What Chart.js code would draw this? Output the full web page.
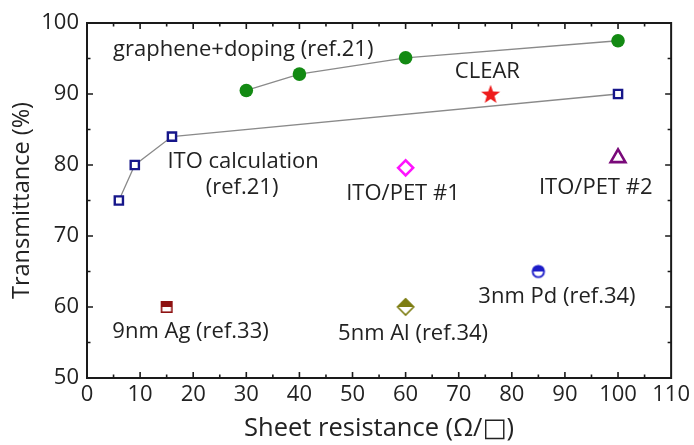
<!DOCTYPE html>
<html>
<head>
<meta charset="utf-8">
<script src="https://cdn.jsdelivr.net/npm/chart.js@4"></script>
<style>
  html, body { margin: 0; padding: 0; background: #fff; }
</style>
</head>
<body>
<canvas id="chart" width="694" height="445"></canvas>
<script>
// data
const grapheneX = [30, 40, 60, 100];
const grapheneY = [90.5, 92.8, 95.1, 97.5];
const itoCalcX = [6, 9, 16, 100];
const itoCalcY = [75, 80, 84, 90];
const clearPoint = [76, 90];
const itoPet1Point = [60, 79.6];
const itoPet2Point = [100, 81];
const agPoint = [15, 60];
const alPoint = [60, 60];
const pdPoint = [85, 65];

const xTicks = [0, 10, 20, 30, 40, 50, 60, 70, 80, 90, 100, 110];
const yTicks = [50, 60, 70, 80, 90, 100];

// text labels
const labelTexts = ['graphene+doping (ref.21)', 'CLEAR', 'ITO calculation', '(ref.21)',
  'ITO/PET #1', 'ITO/PET #2', '9nm Ag (ref.33)', '5nm Al (ref.34)', '3nm Pd (ref.34)'];
const labelX = [4.9, 75.4, 29.4, 29.2, 59.5, 95.8, 19.5, 61.4, 88.5];
const labelY = [96.3, 93.2, 80.4, 76.8, 75.9, 76.8, 56.5, 56.3, 61.5];
const labelAlign = ['left', 'center', 'center', 'center', 'center', 'center', 'center', 'center', 'center'];

const FONT = '"Open Sans", "DejaVu Sans", sans-serif';
const TEXT = '#222222';

function toPoints(xs, ys) {
  return xs.map((x, i) => ({ x: x, y: ys[i] }));
}

// small canvases used as point styles
function makeIcon(w, h, draw) {
  const c = document.createElement('canvas');
  c.width = w; c.height = h;
  draw(c.getContext('2d'), w, h);
  return c;
}

const starIcon = makeIcon(22, 22, (g, w, h) => {
  const cx = w / 2, cy = h / 2 + 0.8, ro = 10, ri = 4.1;
  g.beginPath();
  for (let i = 0; i < 10; i++) {
    const r = i % 2 ? ri : ro;
    const a = -Math.PI / 2 + i * Math.PI / 5;
    g.lineTo(cx + r * Math.cos(a), cy + r * Math.sin(a));
  }
  g.closePath();
  g.fillStyle = '#ee1c1c';
  g.fill();
});

const agIcon = makeIcon(16, 16, (g) => {
  g.fillStyle = '#8e1212';
  g.fillRect(2, 2, 12, 6);
  g.strokeStyle = '#8e1212';
  g.lineWidth = 1.6;
  g.strokeRect(2.8, 2.8, 10.4, 10.4);
});

const alIcon = makeIcon(22, 22, (g, w, h) => {
  const cx = w / 2, cy = h / 2, r = 9;
  g.fillStyle = '#7d7d12';
  g.beginPath();
  g.moveTo(cx - r, cy); g.lineTo(cx, cy - r); g.lineTo(cx + r, cy); g.closePath();
  g.fill();
  g.strokeStyle = '#7d7d12';
  g.lineWidth = 1.6;
  g.beginPath();
  g.moveTo(cx - r + 1, cy); g.lineTo(cx, cy - r + 1); g.lineTo(cx + r - 1, cy); g.lineTo(cx, cy + r - 1); g.closePath();
  g.stroke();
});

const pdIcon = makeIcon(16, 16, (g, w, h) => {
  const cx = w / 2, cy = h / 2, r = 6.2;
  g.fillStyle = '#1c1cc8';
  g.beginPath();
  g.arc(cx, cy, r, Math.PI, 0);
  g.closePath();
  g.fill();
  g.strokeStyle = '#1c1cc8';
  g.lineWidth = 1.8;
  g.beginPath();
  g.arc(cx, cy, r - 0.5, 0, Math.PI * 2);
  g.stroke();
});

// frame with inward major + minor ticks on all four sides
const framePlugin = {
  id: 'frame',
  afterDatasetsDraw(chart) {
    const { ctx, chartArea: a, scales: { x, y } } = chart;
    ctx.save();
    ctx.strokeStyle = '#1a1a1a';
    ctx.lineWidth = 2;
    ctx.strokeRect(a.left, a.top, a.right - a.left, a.bottom - a.top);
    ctx.lineWidth = 1.6;
    ctx.beginPath();
    for (let v = 5; v < 110; v += 5) {
      const px = x.getPixelForValue(v);
      const len = v % 10 === 0 ? 6 : 3.5;
      ctx.moveTo(px, a.bottom); ctx.lineTo(px, a.bottom - len);
      ctx.moveTo(px, a.top); ctx.lineTo(px, a.top + len);
    }
    for (let v = 55; v < 100; v += 5) {
      const py = y.getPixelForValue(v);
      const len = v % 10 === 0 ? 6 : 3.5;
      ctx.moveTo(a.left, py); ctx.lineTo(a.left + len, py);
      ctx.moveTo(a.right, py); ctx.lineTo(a.right - len, py);
    }
    ctx.stroke();
    ctx.restore();
  }
};

const labelPlugin = {
  id: 'labels',
  afterDatasetsDraw(chart) {
    const { ctx, scales: { x, y } } = chart;
    ctx.save();
    ctx.fillStyle = TEXT;
    ctx.font = '22px ' + FONT;
    ctx.textBaseline = 'middle';
    labelTexts.forEach((t, i) => {
      ctx.textAlign = labelAlign[i];
      ctx.fillText(t, x.getPixelForValue(labelX[i]), y.getPixelForValue(labelY[i]));
    });
    ctx.restore();
  }
};

const ctx = document.getElementById('chart').getContext('2d');
const chart = new Chart(ctx, {
  type: 'scatter',
  data: {
    datasets: [
      {
        label: 'graphene+doping',
        data: toPoints(grapheneX, grapheneY),
        showLine: true,
        borderColor: '#8a8a8a',
        borderWidth: 1.3,
        pointStyle: 'circle',
        pointRadius: 6.8,
        pointBackgroundColor: '#138a13',
        pointBorderColor: '#138a13',
        pointBorderWidth: 0
      },
      {
        label: 'ITO calculation',
        data: toPoints(itoCalcX, itoCalcY),
        showLine: true,
        borderColor: '#8a8a8a',
        borderWidth: 1.3,
        pointStyle: 'rect',
        pointRadius: 5.8,
        pointBackgroundColor: '#ffffff',
        pointBorderColor: '#16168a',
        pointBorderWidth: 2.4
      },
      {
        label: 'CLEAR',
        data: [{ x: clearPoint[0], y: clearPoint[1] }],
        pointStyle: starIcon
      },
      {
        label: 'ITO/PET #1',
        data: [{ x: itoPet1Point[0], y: itoPet1Point[1] }],
        pointStyle: 'rectRot',
        pointRadius: 7.5,
        pointBackgroundColor: '#ffffff',
        pointBorderColor: '#ff14ff',
        pointBorderWidth: 2.6
      },
      {
        label: 'ITO/PET #2',
        data: [{ x: itoPet2Point[0], y: itoPet2Point[1] }],
        pointStyle: 'triangle',
        pointRadius: 8.5,
        pointBackgroundColor: '#ffffff',
        pointBorderColor: '#7a0a7a',
        pointBorderWidth: 2.6
      },
      {
        label: '9nm Ag',
        data: [{ x: agPoint[0], y: agPoint[1] }],
        pointStyle: agIcon
      },
      {
        label: '5nm Al',
        data: [{ x: alPoint[0], y: alPoint[1] }],
        pointStyle: alIcon
      },
      {
        label: '3nm Pd',
        data: [{ x: pdPoint[0], y: pdPoint[1] }],
        pointStyle: pdIcon
      }
    ]
  },
  options: {
    responsive: false,
    animation: false,
    events: [],
    layout: { padding: { left: 0, top: 23, right: 19, bottom: 0 } },
    plugins: { legend: { display: false }, tooltip: { enabled: false } },
    scales: {
      x: {
        type: 'linear',
        min: 0,
        max: 110,
        afterBuildTicks: (s) => { s.ticks = xTicks.map(v => ({ value: v })); },
        afterFit: (s) => { s.height = 67; },
        grid: { display: false, drawTicks: false },
        border: { display: false },
        ticks: { padding: 4, color: TEXT, font: { family: FONT, size: 22 } },
        title: {
          display: true,
          text: 'Sheet resistance (Ω/□)',
          color: TEXT,
          padding: { top: 0, bottom: 1 },
          font: { family: FONT, size: 25.5 }
        }
      },
      y: {
        type: 'linear',
        min: 50,
        max: 100,
        afterBuildTicks: (s) => { s.ticks = yTicks.map(v => ({ value: v })); },
        afterFit: (s) => { s.width = 87; },
        grid: { display: false, drawTicks: false },
        border: { display: false },
        ticks: { padding: 8, color: TEXT, font: { family: FONT, size: 22 } },
        title: {
          display: true,
          text: 'Transmittance (%)',
          color: TEXT,
          padding: { top: 8, bottom: 0 },
          font: { family: FONT, size: 23.5 }
        }
      }
    }
  },
  plugins: [framePlugin, labelPlugin]
});
</script>
</body>
</html>
